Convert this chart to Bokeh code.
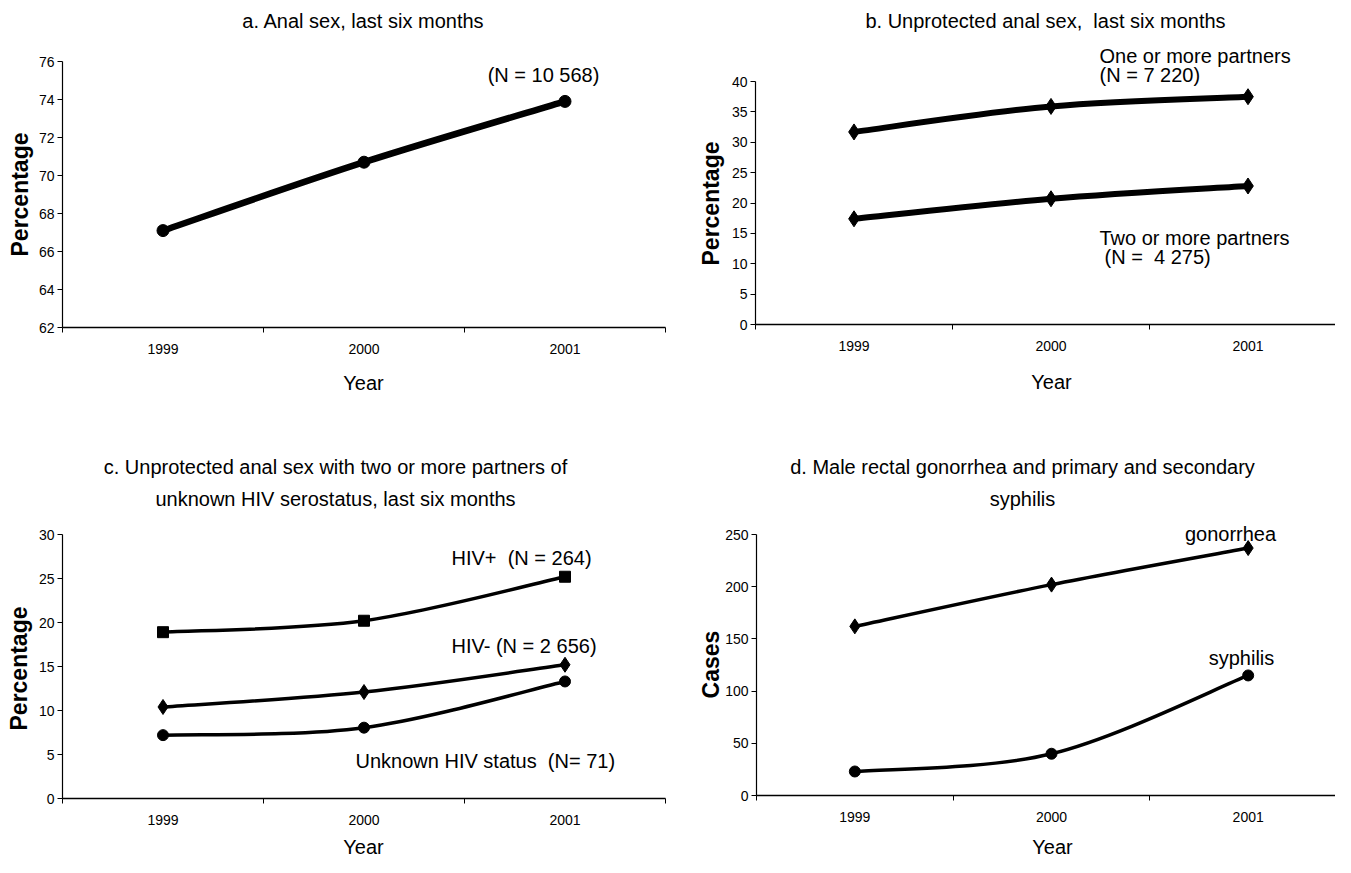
import math
from bokeh.plotting import figure
from bokeh.layouts import column, row
from bokeh.models import FixedTicker, Label, Range1d, LinearAxis
from bokeh.embed import file_html
from bokeh.resources import INLINE

# ---------------- data ----------------
years = ["1999", "2000", "2001"]

anal_sex = [67.1, 70.7, 73.9]                 # panel a
upas_one_plus = [31.7, 35.9, 37.5]            # panel b
upas_two_plus = [17.4, 20.7, 22.8]
hiv_pos = [18.9, 20.2, 25.2]                  # panel c
hiv_neg = [10.4, 12.1, 15.2]
hiv_unknown = [7.2, 8.05, 13.3]
gonorrhea = [162, 202, 237]                   # panel d
syphilis = [23, 40, 115]

ticks_a = [62, 64, 66, 68, 70, 72, 74, 76]
ticks_b = [0, 5, 10, 15, 20, 25, 30, 35, 40]
ticks_c = [0, 5, 10, 15, 20, 25, 30]
ticks_d = [0, 50, 100, 150, 200, 250]

FONT = "'Liberation Sans', Arial, sans-serif"
NB = "\u00a0"   # keeps doubled spaces from collapsing

xs = [i + 0.5 for i in range(len(years))]
bounds = [float(i) for i in range(len(years) + 1)]
NCAT = len(years)


class Panel:
    """A figure whose frame fills the canvas; the axes are drawn at fixed
    locations inside it so that titles and labels can be placed anywhere."""

    def __init__(self, fx, fy, w, h, L, R, T, B, yticks):
        self.L, self.R, self.T, self.B = L, R, T, B
        self.y0, self.y1 = yticks[0], yticks[-1]
        p = figure(width=w, height=h, output_backend="svg", toolbar_location=None,
                   x_range=Range1d(self.dx(fx), self.dx(fx + w)),
                   y_range=Range1d(self.dy(fy + h), self.dy(fy)),
                   min_border=0, x_axis_location=None, y_axis_location=None)
        p.outline_line_color = None
        p.grid.grid_line_color = None
        p.background_fill_color = "white"
        p.border_fill_color = "white"
        xa = LinearAxis(fixed_location=self.y0, bounds=(0, NCAT))
        xa.ticker = FixedTicker(ticks=xs, minor_ticks=bounds)
        xa.major_label_overrides = {x: y for x, y in zip(xs, years)}
        xa.major_tick_out = 0
        xa.major_tick_in = 0
        xa.minor_tick_out = 5
        xa.minor_tick_in = 0
        xa.minor_tick_line_color = "black"
        xa.axis_line_color = "black"
        xa.axis_line_width = 1.5
        xa.major_label_text_font = FONT
        xa.major_label_text_font_size = "14px"
        xa.major_label_text_color = "black"
        xa.major_label_standoff = 11
        p.add_layout(xa, "below")
        ya = LinearAxis(fixed_location=0, bounds=(self.y0, self.y1))
        ya.ticker = FixedTicker(ticks=yticks)
        ya.major_tick_out = 5
        ya.major_tick_in = 0
        ya.minor_tick_line_color = None
        ya.axis_line_color = "black"
        ya.axis_line_width = 1.2
        ya.major_label_text_font = FONT
        ya.major_label_text_font_size = "14px"
        ya.major_label_text_color = "black"
        ya.major_label_standoff = 3
        p.add_layout(ya, "left")
        self.p = p

    # picture pixel -> data
    def dx(self, px):
        return (px - self.L) / (self.R - self.L) * NCAT

    def dy(self, py):
        return self.y0 + (self.B - py) / (self.B - self.T) * (self.y1 - self.y0)

    def text(self, px, py, s, size="20px", align="left", bold=False, angle=0.0):
        self.p.add_layout(Label(x=self.dx(px), y=self.dy(py), text=s, text_align=align,
                                text_baseline="middle", text_font=FONT, text_font_size=size,
                                text_font_style="bold" if bold else "normal",
                                text_color="black", angle=angle))

    def smooth_line(self, ys, lw):
        n = len(xs)
        pts = list(zip(xs, ys))
        d = dict(x0=[], y0=[], x1=[], y1=[], cx0=[], cy0=[], cx1=[], cy1=[])
        for i in range(n - 1):
            pm = pts[max(i - 1, 0)]
            p0 = pts[i]
            p1 = pts[i + 1]
            p2 = pts[min(i + 2, n - 1)]
            d["x0"].append(p0[0]); d["y0"].append(p0[1])
            d["x1"].append(p1[0]); d["y1"].append(p1[1])
            d["cx0"].append(p0[0] + (p1[0] - pm[0]) / 6.0)
            d["cy0"].append(p0[1] + (p1[1] - pm[1]) / 6.0)
            d["cx1"].append(p1[0] - (p2[0] - p0[0]) / 6.0)
            d["cy1"].append(p1[1] - (p2[1] - p0[1]) / 6.0)
        self.p.bezier(x0="x0", y0="y0", x1="x1", y1="y1", cx0="cx0", cy0="cy0",
                      cx1="cx1", cy1="cy1", source=d, line_color="black",
                      line_width=lw, line_cap="round")

    def points(self, ys, marker, size):
        self.p.scatter(xs, ys, marker=marker, size=size, color="black")


VERT = math.pi / 2
TS = "20px"   # titles
LS = "20px"   # in-plot labels
AS = "23px"   # y axis titles
XS = "20px"   # "Year"

# ---------------- panel a ----------------
a = Panel(0, 0, 672, 438, 62, 665, 61, 327, ticks_a)
a.smooth_line(anal_sex, 6.5)
a.points(anal_sex, "circle", 12)
a.text(363, 20, "a. Anal sex, last six months", size=TS, align="center")
a.text(543, 74, "(N = 10 568)", size=LS, align="center")
a.text(19, 194, "Percentage", size=AS, bold=True, align="center", angle=VERT)
a.text(363, 382, "Year", size=XS, align="center")

# ---------------- panel b ----------------
b = Panel(672, 0, 663, 438, 755, 1346, 81, 324, ticks_b)
b.smooth_line(upas_one_plus, 6)
b.smooth_line(upas_two_plus, 6)
b.points(upas_one_plus, "diamond", 16)
b.points(upas_two_plus, "diamond", 16)
b.text(1045, 20, "b. Unprotected anal sex," + NB + " last six months", size=TS, align="center")
b.text(1099, 55, "One or more partners", size=LS)
b.text(1099, 74, "(N = 7 220)", size=LS)
b.text(1099, 237, "Two or more partners", size=LS)
b.text(1104, 256, "(N =" + NB + " 4 275)", size=LS)
b.text(710, 203, "Percentage", size=AS, bold=True, align="center", angle=VERT)
b.text(1051, 381, "Year", size=XS, align="center")

# ---------------- panel c ----------------
c = Panel(0, 438, 672, 419, 62, 665, 534, 798, ticks_c)
c.smooth_line(hiv_pos, 3.5)
c.smooth_line(hiv_neg, 3.5)
c.smooth_line(hiv_unknown, 3.5)
c.points(hiv_pos, "square", 11)
c.points(hiv_neg, "diamond", 15)
c.points(hiv_unknown, "circle", 11)
c.text(335, 466, "c. Unprotected anal sex with two or more partners of", size=TS, align="center")
c.text(335, 498, "unknown HIV serostatus, last six months", size=TS, align="center")
c.text(451, 557, "HIV+" + NB + " (N = 264)", size=LS)
c.text(451, 645, "HIV- (N = 2 656)", size=LS)
c.text(355, 760, "Unknown HIV status" + NB + " (N= 71)", size=LS)
c.text(18, 668, "Percentage", size=AS, bold=True, align="center", angle=VERT)
c.text(363, 846, "Year", size=XS, align="center")

# ---------------- panel d ----------------
d = Panel(672, 438, 663, 419, 756, 1346, 534, 795, ticks_d)
d.smooth_line(gonorrhea, 3.5)
d.smooth_line(syphilis, 3.5)
d.points(gonorrhea, "diamond", 15)
d.points(syphilis, "circle", 11)
d.text(1022, 466, "d. Male rectal gonorrhea and primary and secondary", size=TS, align="center")
d.text(1022, 498, "syphilis", size=TS, align="center")
d.text(1230, 533, "gonorrhea", size=LS, align="center")
d.text(1241, 657, "syphilis", size=LS, align="center")
d.text(710, 664, "Cases", size=AS, bold=True, align="center", angle=VERT)
d.text(1052, 846, "Year", size=XS, align="center")

layout = column(row(a.p, b.p), row(c.p, d.p))

open("out.html", "w").write(file_html(layout, INLINE))
